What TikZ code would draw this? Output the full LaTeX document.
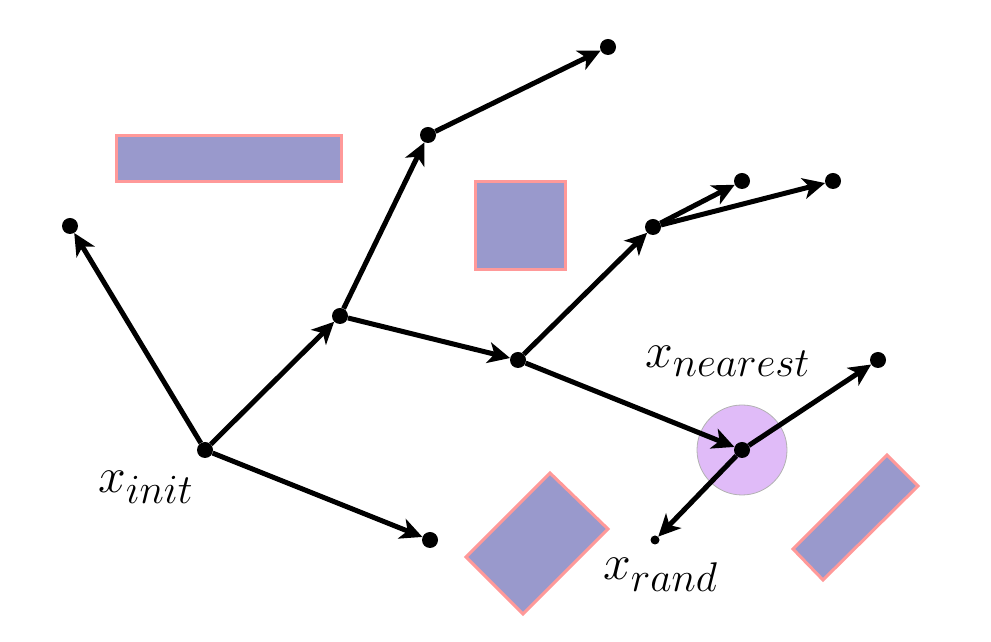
\documentclass[tikz,border=0pt]{standalone}
\usepackage{graphicx}
\usetikzlibrary{arrows.meta}
\definecolor{obsfill}{HTML}{9999CC}
\definecolor{obsedge}{HTML}{FF9999}
\definecolor{nearfill}{HTML}{E0BBF8}
\newcommand{\biglab}[1]{\scalebox{2.0}{\Huge$#1$}}
\begin{document}
\begin{tikzpicture}[x=1pt,y=1pt,
  vtx/.style={circle,fill=black,inner sep=0pt,minimum size=16pt},
  edge/.style={line width=5pt,-{Stealth[length=22pt,width=21pt,inset=6pt]}},
  obs/.style={fill=obsfill,draw=obsedge,line width=3pt,line join=miter},
  lab/.style={anchor=base west,inner sep=0pt}]
\useasboundingbox (0,0) rectangle (991,642);
% obstacles
\draw[obs] (116,506) rectangle (341,460);
\draw[obs] (475,460) rectangle (565,372);
\draw[obs] (550,169) -- (608,113) -- (523,28) -- (466,85) -- cycle;
\draw[obs] (887,187) -- (918,156) -- (823,62) -- (793,93) -- cycle;
% nearest region
\fill[nearfill,draw=gray!60,line width=0.8pt] (742,192) circle (45);
% vertices
\node[vtx] (init) at (205,192) {};
\node[vtx] (a) at (70,416) {};
\node[vtx] (b) at (340,326) {};
\node[vtx] (c) at (430,102) {};
\node[vtx] (d) at (428,507) {};
\node[vtx] (e) at (608,595) {};
\node[vtx] (f) at (518,282) {};
\node[vtx] (g) at (653,415) {};
\node[vtx] (h) at (742,461) {};
\node[vtx] (i) at (833,461) {};
\node[vtx] (n) at (742,192) {};
\node[vtx] (j) at (878,282) {};
\node[circle,fill=black,inner sep=0pt,minimum size=9pt] (r) at (655,102) {};
% edges
\draw[edge] (init) -- (a);
\draw[edge] (init) -- (b);
\draw[edge] (init) -- (c);
\draw[edge] (b) -- (d);
\draw[edge] (d) -- (e);
\draw[edge] (b) -- (f);
\draw[edge] (f) -- (g);
\draw[edge] (g) -- (h);
\draw[edge] (g) -- (i);
\draw[edge] (f) -- (n);
\draw[edge] (n) -- (j);
\draw[edge] (n) -- (r);
% labels
\node[lab] (linit) at (98,149) {\biglab{x_{init}}};
\node[lab] (lnear) at (645,274) {\biglab{x_{nearest}}};
\node[lab] (lrand) at (603,62) {\biglab{x_{rand}}};
\end{tikzpicture}
\end{document}
